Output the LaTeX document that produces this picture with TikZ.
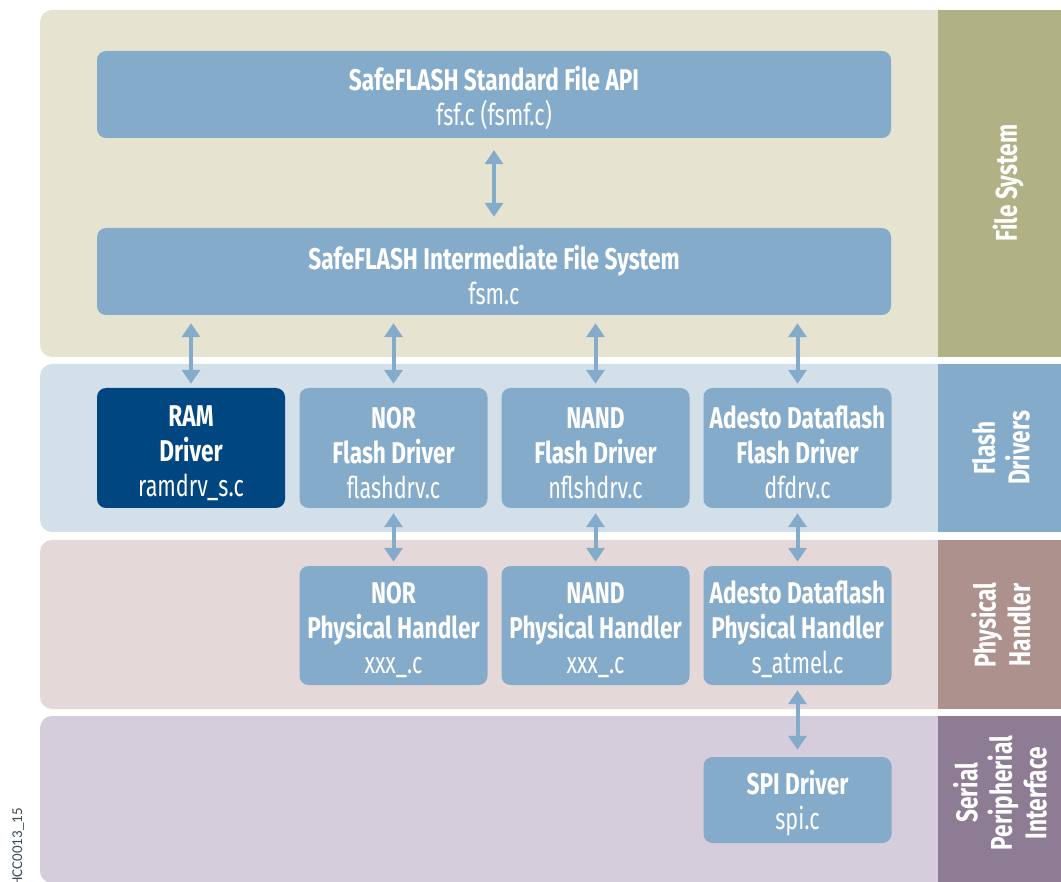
\documentclass[tikz,border=0pt]{standalone}
\usepackage{fontspec}
\setmainfont{Fira Sans}[FakeStretch=0.72, BoldFeatures={FakeStretch=0.755}]
\newfontfamily\codefont{Carlito}
\usetikzlibrary{arrows.meta}
\definecolor{fsbg}{HTML}{E6E4D0}
\definecolor{fslab}{HTML}{B0B185}
\definecolor{fdbg}{HTML}{D3E0EA}
\definecolor{fdlab}{HTML}{85ABCB}
\definecolor{phbg}{HTML}{E4D9D8}
\definecolor{phlab}{HTML}{AD918D}
\definecolor{spbg}{HTML}{D5CDDB}
\definecolor{splab}{HTML}{8E7B94}
\definecolor{boxc}{HTML}{85ABCB}
\definecolor{ramc}{HTML}{004680}
\definecolor{arrc}{HTML}{85ABCB}
\definecolor{codec}{HTML}{3C4A5A}
\newcommand\tstrut{\rule{0pt}{30.5pt}}
\tikzset{
  box/.style={fill=boxc, rounded corners=9pt, text=white, align=center,
    inner sep=0pt, font=\fontsize{30}{35}\selectfont},
  wide/.style={minimum width=794pt, minimum height=87pt},
  drv/.style={minimum width=188pt, minimum height=120pt},
  lab/.style={rotate=90, text=white, align=center, inner sep=0pt,
    font=\fontsize{30}{34.5}\selectfont\bfseries},
  arr/.style={draw=arrc, line width=4pt,
    {Triangle[width=18pt,length=14pt]}-{Triangle[width=18pt,length=14pt]}}
}
\begin{document}
\begin{tikzpicture}[x=1pt,y=-1pt]
\useasboundingbox (0,0) rectangle (1061,882);
% bands
\fill[fsbg, rounded corners=12pt] (40,10) rectangle (1075,357);
\fill[fslab] (938,10) rectangle (1061,357);
\fill[fdbg, rounded corners=12pt] (40,364) rectangle (1075,532);
\fill[fdlab] (938,364) rectangle (1061,532);
\fill[phbg, rounded corners=12pt] (40,540) rectangle (1075,709);
\fill[phlab] (938,540) rectangle (1061,709);
\fill[spbg, rounded corners=12pt] (40,716) rectangle (1075,883);
\fill[splab] (938,716) rectangle (1061,883);
% band labels
\node[lab] (lfs) at (1008,183) {File System};
\node[lab] (lfd) at (1001,448) {Flash\\Drivers};
\node[lab] (lph) at (1001,625) {Physical\\Handler};
\node[lab] (lsp) at (1000,793) {Serial\\Peripherial\\Interface};
% boxes
\node[box, wide] (api) at (494,94.5) {{\tstrut\bfseries SafeFLASH Standard File API}\\{fsf.c (fsmf.c)}};
\node[box, wide] (ifs) at (494,271.5) {{\tstrut\bfseries SafeFLASH Intermediate File System}\\{fsm.c}};
\node[box, drv, fill=ramc] (ram) at (191,448) {{\tstrut\bfseries RAM}\\{\bfseries Driver}\\{ramdrv\_s.c}};
\node[box, drv] (nor) at (393.5,448) {{\tstrut\bfseries NOR}\\{\bfseries Flash Driver}\\{flashdrv.c}};
\node[box, drv] (nand) at (595.5,448) {{\tstrut\bfseries NAND}\\{\bfseries Flash Driver}\\{nflshdrv.c}};
\node[box, drv] (ades) at (797.5,448) {{\tstrut\bfseries Adesto Dataflash}\\{\bfseries Flash Driver}\\{dfdrv.c}};
\node[box, drv, minimum height=119pt] (pnor) at (393.5,625.5) {{\tstrut\bfseries NOR}\\{\bfseries Physical Handler}\\{xxx\_.c}};
\node[box, drv, minimum height=119pt] (pnand) at (595.5,625.5) {{\tstrut\bfseries NAND}\\{\bfseries Physical Handler}\\{xxx\_.c}};
\node[box, drv, minimum height=119pt] (pades) at (797.5,625.5) {{\tstrut\bfseries Adesto Dataflash}\\{\bfseries Physical Handler}\\{s\_atmel.c}};
\node[box, minimum width=188pt, minimum height=86pt] (spi) at (797.5,800) {{\tstrut\bfseries SPI Driver}\\{spi.c}};
% code
\node[rotate=90, anchor=base east, inner sep=0pt, text=codec, font=\codefont\fontsize{15}{17}\selectfont] (code) at (22,808) {HCC0013\_15};
% arrows
\draw[arr, shorten <=12pt, shorten >=11pt] (api.south) -- (ifs.north);
\draw[arr, shorten <=8pt, shorten >=4pt] (ram.north |- ifs.south) -- (ram.north);
\draw[arr, shorten <=8pt, shorten >=4pt] (nor.north |- ifs.south) -- (nor.north);
\draw[arr, shorten <=8pt, shorten >=4pt] (nand.north |- ifs.south) -- (nand.north);
\draw[arr, shorten <=8pt, shorten >=4pt] (ades.north |- ifs.south) -- (ades.north);
\draw[arr, shorten <=5pt, shorten >=4pt] (nor.south) -- (pnor.north);
\draw[arr, shorten <=5pt, shorten >=4pt] (nand.south) -- (pnand.north);
\draw[arr, shorten <=5pt, shorten >=4pt] (ades.south) -- (pades.north);
\draw[arr, shorten <=5pt, shorten >=7pt] (pades.south) -- (spi.north);
\end{tikzpicture}
\end{document}
